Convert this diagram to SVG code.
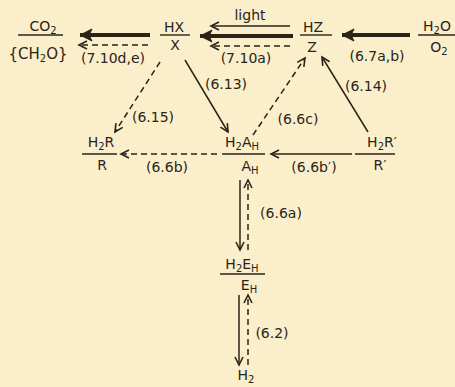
<svg xmlns="http://www.w3.org/2000/svg" width="455" height="387" viewBox="0 0 455 387">
<style>
text{font-family:"DejaVu Sans","Liberation Sans",sans-serif;font-size:14px;fill:#2a2418;text-anchor:middle}
.sub{font-size:10px}
.big{font-size:15px}
.ln{stroke:#2a2418;stroke-width:1.4;fill:none}
.thin{stroke:#2a2418;stroke-width:1.5;fill:none}
.dash{stroke:#2a2418;stroke-width:1.5;fill:none;stroke-dasharray:6,4}
.thick{stroke:#2a2418;stroke-width:4;fill:none}
</style>
<defs>
<marker id="ah" markerUnits="userSpaceOnUse" viewBox="-10 -6 12 12" refX="0" refY="0" markerWidth="12" markerHeight="12" orient="auto">
<path d="M-8,-4 L0,0 L-8,4" fill="none" stroke="#2a2418" stroke-width="1.6"/>
</marker>
<marker id="big" markerUnits="userSpaceOnUse" viewBox="-14 -8 16 16" refX="0" refY="0" markerWidth="16" markerHeight="16" orient="auto">
<path d="M-12,-6 L0,0 L-12,6 L-9,0 Z" fill="#2a2418" stroke="#2a2418" stroke-width="1"/>
</marker>
</defs>
<rect width="455" height="387" fill="#fbefcb"/>

<g id="connectors">
<line class="thick" x1="150" y1="35" x2="80" y2="35" marker-end="url(#big)"/>
<line class="dash" x1="148" y1="45" x2="79" y2="45" marker-end="url(#ah)"/>
<line class="thin" x1="290" y1="26" x2="211" y2="26" marker-end="url(#ah)"/>
<line class="thick" x1="293" y1="36" x2="200" y2="36" marker-end="url(#big)"/>
<line class="dash" x1="290" y1="46" x2="211" y2="46" marker-end="url(#ah)"/>
<line class="thick" x1="410" y1="35" x2="342" y2="35" marker-end="url(#big)"/>
<line class="dash" x1="160" y1="62" x2="115" y2="132" marker-end="url(#ah)"/>
<line class="thin" x1="185" y1="60" x2="228" y2="132" marker-end="url(#ah)"/>
<line class="dash" x1="253" y1="135" x2="305" y2="58" marker-end="url(#ah)"/>
<line class="thin" x1="368" y1="132" x2="322" y2="57" marker-end="url(#ah)"/>
<line class="dash" x1="217" y1="154" x2="121" y2="154" marker-end="url(#ah)"/>
<line class="thin" x1="352" y1="154" x2="271" y2="154" marker-end="url(#ah)"/>
<line class="thin" x1="240" y1="180" x2="240" y2="250" marker-end="url(#ah)"/>
<line class="dash" x1="248" y1="250" x2="248" y2="180" marker-end="url(#ah)"/>
<line class="thin" x1="239" y1="295" x2="239" y2="365" marker-end="url(#ah)"/>
<line class="dash" x1="248" y1="365" x2="248" y2="295" marker-end="url(#ah)"/>
</g>

<g id="labels">
<text x="250" y="20">light</text>
<text x="113" y="63">(7.10d,e)</text>
<text x="246" y="63">(7.10a)</text>
<text x="377" y="61">(6.7a,b)</text>
<text x="153" y="122">(6.15)</text>
<text x="226" y="89">(6.13)</text>
<text x="298" y="124">(6.6c)</text>
<text x="366" y="91">(6.14)</text>
<text x="167" y="172">(6.6b)</text>
<text x="314" y="172">(6.6b′)</text>
<text x="281" y="218">(6.6a)</text>
<text x="272" y="338">(6.2)</text>
</g>

<g id="node-co2">
<text x="43" y="31">CO<tspan class="sub" dy="3">2</tspan></text>
<line class="ln" x1="18" y1="35" x2="63" y2="35"/>
<text class="big" x="38" y="59">{CH<tspan class="sub" dy="3">2</tspan><tspan dy="-3">O}</tspan></text>
</g>

<g id="node-hx">
<text x="174" y="32">HX</text>
<line class="ln" x1="160" y1="35" x2="190" y2="35"/>
<text x="175" y="50">X</text>
</g>

<g id="node-hz">
<text x="313" y="32">HZ</text>
<line class="ln" x1="300" y1="35" x2="332" y2="35"/>
<text x="312" y="52">Z</text>
</g>

<g id="node-h2o">
<text x="437" y="31">H<tspan class="sub" dy="3">2</tspan><tspan dy="-3">O</tspan></text>
<line class="ln" x1="418" y1="35" x2="455" y2="35"/>
<text x="439" y="52">O<tspan class="sub" dy="3">2</tspan></text>
</g>

<g id="node-h2r">
<text x="101" y="147">H<tspan class="sub" dy="3">2</tspan><tspan dy="-3">R</tspan></text>
<line class="ln" x1="82" y1="154" x2="117" y2="154"/>
<text x="102" y="170">R</text>
</g>

<g id="node-h2ah">
<text x="242" y="147">H<tspan class="sub" dy="3">2</tspan><tspan dy="-3">A</tspan><tspan class="sub" dy="3">H</tspan></text>
<line class="ln" x1="222" y1="154" x2="265" y2="154"/>
<text x="250" y="171">A<tspan class="sub" dy="3">H</tspan></text>
</g>

<g id="node-h2r-prime">
<text x="382" y="147">H<tspan class="sub" dy="3">2</tspan><tspan dy="-3">R′</tspan></text>
<line class="ln" x1="355" y1="154" x2="395" y2="154"/>
<text x="380" y="170">R′</text>
</g>

<g id="node-h2eh">
<text x="242" y="269">H<tspan class="sub" dy="3">2</tspan><tspan dy="-3">E</tspan><tspan class="sub" dy="3">H</tspan></text>
<line class="ln" x1="220" y1="274" x2="265" y2="274"/>
<text x="249" y="290">E<tspan class="sub" dy="3">H</tspan></text>
</g>

<g id="node-h2">
<text x="246" y="380">H<tspan class="sub" dy="3">2</tspan></text>
</g>
</svg>
